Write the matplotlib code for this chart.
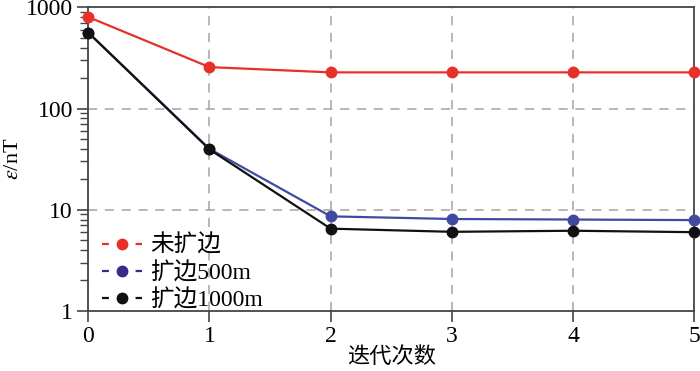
import numpy as np
import matplotlib.pyplot as plt
from matplotlib.lines import Line2D
from matplotlib.ticker import LogLocator, NullFormatter

plt.rcParams['font.family'] = ['Liberation Serif', 'Noto Sans CJK SC']
plt.rcParams['mathtext.fontset'] = 'stix'

iterations = [0, 1, 2, 3, 4, 5]
no_pad = [805, 257, 228, 228, 228, 228]
pad_500 = [565, 40, 8.6, 8.1, 8.0, 7.9]
pad_1000 = [565, 39.5, 6.5, 6.05, 6.2, 6.0]

labels = ['未扩边', '扩边500m', '扩边1000m']
colors = ['#e8302a', '#3f4aa0', '#111111']
legend_colors = ['#e8302a', '#3a2a8a', '#111111']

fig = plt.figure(figsize=(7, 3.71), dpi=100)
ax = fig.add_axes([0.126, 0.162, 0.866, 0.818])

for vals, c in zip([no_pad, pad_500, pad_1000], colors):
    ax.plot(iterations, vals, color=c, lw=1.6, marker='o', ms=7.5,
            clip_on=False, zorder=3)

ax.set_yscale('log')
ax.set_ylim(1, 1000)
ax.set_xlim(0, 5)
ax.set_xticks(iterations)
ax.set_yticks([1, 10, 100, 1000])
ax.set_yticklabels(['1', '10', '100', '1000'])
ax.yaxis.set_minor_locator(LogLocator(base=10, subs=np.arange(2, 10)))
ax.yaxis.set_minor_formatter(NullFormatter())

# dashed grid
for xv in [1, 2, 3, 4]:
    ax.axvline(xv, color='#a8a2a0', lw=1.1, ls=(0, (6, 5)), zorder=1)
for yv in [10, 100]:
    ax.axhline(yv, color='#a8a2a0', lw=1.1, ls=(0, (6, 5)), zorder=1)

for sp in ax.spines.values():
    sp.set_color('#444444')
    sp.set_linewidth(1.3)

ax.tick_params(axis='both', which='major', direction='out', length=8,
               width=1.2, color='#444444', labelsize=17)
ax.tick_params(axis='y', which='minor', direction='out', length=6,
               width=1.0, color='#444444')
ax.tick_params(axis='x', pad=3)
ax.tick_params(axis='y', pad=3)

ax.set_xlabel('迭代次数', fontsize=16, labelpad=0)
ax.set_ylabel(r'$\varepsilon$/nT', fontsize=16, labelpad=2)

# legend handle: short dash - marker - short dash (lengths in units of lw)
handles = [Line2D([0], [0], color=c, lw=1.6, ls=(0, (3.1, 12.0)),
                  marker='o', ms=7.5) for c in legend_colors]
ax.legend(handles, labels, loc='lower left', bbox_to_anchor=(0.009, -0.03),
          frameon=False, fontsize=17, handlelength=1.7, handletextpad=0.35,
          labelspacing=0.22, borderaxespad=0.1, borderpad=0.25)

fig.savefig('out.png', dpi=100)
